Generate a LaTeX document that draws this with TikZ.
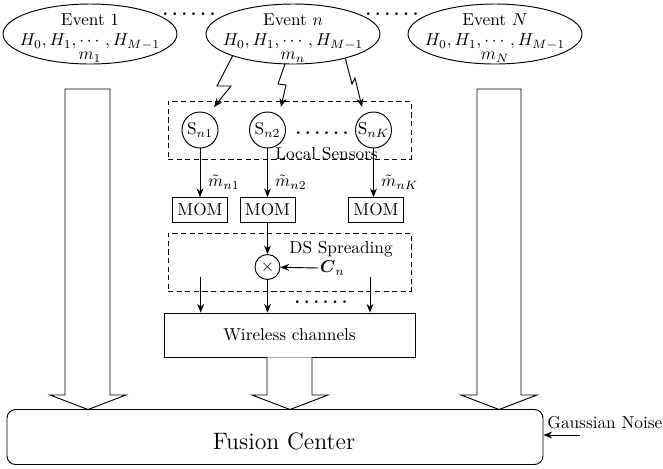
\documentclass[tikz,border=0pt]{standalone}
\usepackage{amsmath,amssymb}
\usetikzlibrary{arrows.meta,shapes.geometric}
\newcommand\pxl{0.58pt}
\newcommand\sixdots{.\hspace{2.3pt}.\hspace{2.3pt}.\hspace{2.3pt}.\hspace{2.3pt}.\hspace{2.3pt}.}
\begin{document}
\begin{tikzpicture}[x=0.58pt,y=-0.58pt, line width=0.55pt,
 ev/.style={draw, ellipse, minimum width=174*\pxl, minimum height=60*\pxl, inner sep=0},
 sens/.style={draw, circle, minimum size=36*\pxl, inner sep=0},
 mom/.style={draw, rectangle, minimum width=55*\pxl, minimum height=25*\pxl, inner sep=0},
 dbox/.style={draw, dash pattern=on 3pt off 2pt, rectangle, minimum width=243*\pxl, minimum height=58*\pxl, inner sep=0},
 arr/.style={-{Stealth[length=5pt,width=4pt]}},
 hollow/.style={draw, fill=white, line join=miter},
 dotsn/.style={inner sep=1pt, font=\bfseries}
]
\useasboundingbox (0,0) rectangle (663,468);

% events
\node[ev] (e1) at (90,34) {};
\node[ev] (en) at (293,34) {};
\node[ev] (eN) at (495,34) {};
\node (e1t) at (90,20) {Event 1};
\node (e1h) at (90,42) {$H_0,H_1,\cdots,H_{M-1}$};
\node (e1m) at (90,57) {$m_1$};
\node (ent) at (293,20) {Event $n$};
\node (enh) at (293,42) {$H_0,H_1,\cdots,H_{M-1}$};
\node (enm) at (293,57) {$m_n$};
\node (eNt) at (495,20) {Event $N$};
\node (eNh) at (495,42) {$H_0,H_1,\cdots,H_{M-1}$};
\node (eNm) at (495,57) {$m_N$};
\node[dotsn] (d1) at (189,14) {\sixdots};
\node[dotsn] (d2) at (392,14) {\sixdots};

% big hollow arrows
\draw[hollow] (65,89) -- (65,395) -- (50,395) -- (88,409.5) -- (126,395) -- (110,395) -- (110,89) -- cycle;
\draw[hollow] (477,89) -- (477,395) -- (461,395) -- (499,409.5) -- (537,395) -- (521,395) -- (521,89) -- cycle;

% sensors
\node[dbox] (ls) at (289.5,130) {};
\node[sens] (s1) at (200,130) {S$_{n1}$};
\node[sens] (s2) at (267.5,130) {S$_{n2}$};
\node[sens] (s3) at (373.5,130) {S$_{nK}$};
\node[dotsn] (d3) at (322,133) {\sixdots};
\node (lst) at (326.5,154) {Local Sensors};

% lightning links
\coordinate (t1) at (214,107);
\coordinate (t2) at (281,107);
\coordinate (t3) at (362,107);
\draw[arr] (en.200) -- (217,86) -- (231,86) -- (t1);
\draw[arr] (en.255) -- (278,84) -- (286,85) -- (t2);
\draw[arr] (en.335) -- (352,84) -- (355,78) -- (t3);

% MOM
\node[mom] (m1) at (200,210) {MOM};
\node[mom] (m2) at (267.5,210) {MOM};
\node[mom] (m3) at (376,210) {MOM};
\draw[arr] (s1) -- (m1);
\draw[arr] (s2) -- (m2);
\draw[arr] (s3.south) -- (s3.south |- m3.north);
\node[anchor=west] (l1) at (202,182) {$\tilde m_{n1}$};
\node[anchor=west] (l2) at (269,182) {$\tilde m_{n2}$};
\node[anchor=west] (l3) at (375,182) {$\tilde m_{nK}$};

% DS spreading
\node[dbox] (ds) at (289.5,262) {};
\node (dst) at (341,249) {DS Spreading};
\node[sens, minimum size=25*\pxl] (mx) at (267.5,267) {$\times$};
\draw[arr] (m2) -- (mx);
\node[anchor=west, inner sep=1pt] (cnl) at (318,268) {$\boldsymbol{C}_n$};
\draw[arr] (cnl.west) -- (mx);

% wireless channels
\node[draw, minimum width=251*\pxl, minimum height=44*\pxl, inner sep=0] (wc) at (289.5,335) {Wireless channels};
\coordinate (a1) at (200.7,277);
\coordinate (a3) at (370,277);
\draw[arr] (a1) -- (a1 |- wc.north);
\draw[arr] (mx) -- (mx |- wc.north);
\draw[arr] (a3) -- (a3 |- wc.north);
\node[dotsn] (d4) at (321,302) {\sixdots};
\draw[hollow] (wc.south -| 267,0) -- (267,395) -- (252,395) -- (290,409.5) -- (328,395) -- (312,395) -- (wc.south -| 312,0);

% fusion center
\node[draw, rounded corners=5pt, minimum width=536*\pxl, minimum height=55*\pxl, inner sep=0] (fc) at (275,437) {};
\node[font=\fontsize{13.8}{16}\selectfont] (fct) at (284,441) {Fusion Center};
\node[anchor=west, inner sep=0] (gt) at (547,423) {Gaussian Noise};
\coordinate (gn) at (580,435);
\draw[arr] (gn) -- (gn -| fc.east);
\end{tikzpicture}
\end{document}
